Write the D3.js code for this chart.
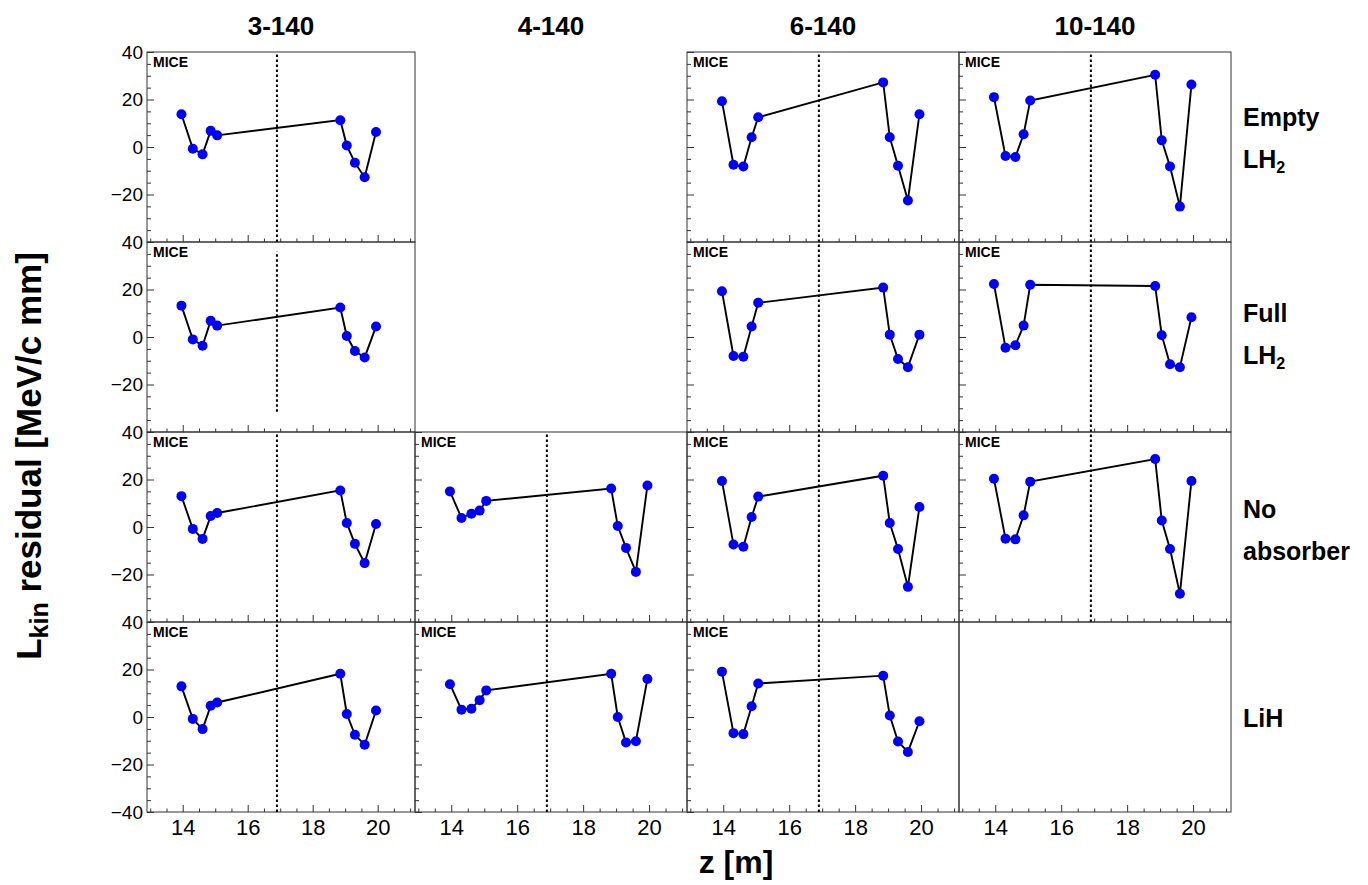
<!DOCTYPE html>
<html>
<head>
<meta charset="utf-8">
<script src="https://cdn.jsdelivr.net/npm/d3@7"></script>
<style>
  body { margin: 0; background: #fff; }
  svg { display: block; font-family: "Liberation Sans", Arial, Helvetica, sans-serif; }
</style>
</head>
<body>
<svg id="chart" width="1368" height="885"></svg>
<script>
// Beam settings (columns) and absorber configurations (rows)
const configs = ["3-140", "4-140", "6-140", "10-140"];
const absorbers = [["Empty", "LH2"], ["Full", "LH2"], ["No", "absorber"], ["LiH"]];

// Tracker station positions along the beamline [m]
const stationZ = [13.96, 14.31, 14.61, 14.86, 15.06, 18.85, 19.05, 19.30, 19.60, 19.95];
const absorberZ = 16.9;

const xTicks = [14, 16, 18, 20];
const yTicks = [-40, -20, 0, 20, 40];

// L_kin residual [MeV/c mm] per station, one entry per beam setting (null = not taken)
const emptyLH2 = [
  [13.8, -0.7, -3.1, 6.8, 4.9, 11.3, 0.6, -6.6, -12.7, 6.3],
  null,
  [19.3, -7.5, -8.2, 4.1, 12.5, 27.2, 4.1, -7.9, -22.5, 13.8],
  [21.0, -3.8, -4.2, 5.4, 19.6, 30.4, 2.8, -8.2, -25.1, 26.3]
];
const fullLH2 = [
  [13.2, -1.0, -3.7, 6.8, 4.8, 12.4, 0.4, -5.9, -8.6, 4.4],
  null,
  [19.3, -8.0, -8.3, 4.4, 14.4, 20.8, 1.0, -9.3, -12.7, 1.0],
  [22.3, -4.5, -3.5, 4.8, 22.0, 21.5, 0.7, -11.5, -12.7, 8.3]
];
const noAbsorber = [
  [13.0, -0.8, -5.0, 4.6, 5.9, 15.4, 1.7, -7.1, -15.2, 1.3],
  [15.0, 3.8, 5.6, 6.9, 11.0, 16.2, 0.4, -8.8, -18.9, 17.5],
  [19.4, -7.4, -8.3, 4.2, 12.8, 21.6, 1.7, -9.3, -25.2, 8.4],
  [20.3, -4.9, -5.2, 4.9, 19.1, 28.6, 2.7, -9.3, -28.1, 19.4]
];
const lih = [
  [12.9, -0.8, -5.1, 4.7, 6.1, 18.2, 1.3, -7.5, -11.7, 2.7],
  [13.8, 3.1, 3.5, 7.1, 11.2, 18.2, 0.0, -10.7, -10.2, 16.0],
  [19.1, -6.8, -7.2, 4.5, 14.1, 17.4, 0.6, -10.3, -14.7, -1.8],
  null
];
const residuals = [emptyLH2, fullLH2, noAbsorber, lih];

// Extent of the dashed absorber marker in each pad (null = not drawn)
const markerSpan = [
  [[-40, 40], null, [-40, 40], [-40, 40]],
  [[-31.5, 36], null, [-40, 40], [-40, 40]],
  [[-40, 40], [-40, 40], [-40, 40], [-40, 40]],
  [[-40, 40], [-40, 40], [-40, 40], null]
];

// ---- layout ----
const colEdges = [147, 415, 687, 959, 1231];
const rowEdges = [52, 242, 432, 622, 812];
const zDomain = [12.9, 21.15];
const yDomain = [-40, 40];

const svg = d3.select("#chart");
const frameColor = "#333";

const fmt = v => (v < 0 ? "\u2212" + Math.abs(v) : String(v));

for (let r = 0; r < 4; r++) {
  for (let c = 0; c < 4; c++) {
    const data = residuals[r][c];
    const isBottom = r === 3;
    const blankPad = data === null && !isBottom;
    if (blankPad) continue;

    const x0 = colEdges[c], x1 = colEdges[c + 1];
    const y0 = rowEdges[r], y1 = rowEdges[r + 1];
    const x = d3.scaleLinear().domain(zDomain).range([x0, x1]);
    const y = d3.scaleLinear().domain(yDomain).range([y1, y0]);
    const g = svg.append("g");

    // frame
    g.append("rect")
      .attr("x", x0).attr("y", y0)
      .attr("width", x1 - x0).attr("height", y1 - y0)
      .attr("fill", "none").attr("stroke", frameColor).attr("stroke-width", 1);

    // bottom axis: ticks pointing inward
    const xMinor = d3.range(13, 21.01, 0.5).filter(v => !xTicks.includes(v));
    g.append("g").attr("transform", `translate(0,${y1})`)
      .call(d3.axisBottom(x).tickValues(xMinor).tickSizeInner(-3.5).tickSizeOuter(0).tickFormat(""))
      .call(a => a.select(".domain").remove())
      .call(a => a.selectAll("line").attr("stroke", frameColor));
    const xAx = g.append("g").attr("transform", `translate(0,${y1})`)
      .call(d3.axisBottom(x).tickValues(xTicks).tickSizeInner(-7).tickSizeOuter(0).tickPadding(7)
        .tickFormat(isBottom ? d3.format("d") : ""))
      .call(a => a.select(".domain").remove())
      .call(a => a.selectAll("line").attr("stroke", frameColor));
    xAx.selectAll("text").attr("font-size", 22).attr("fill", "#000")
      .attr("font-family", '"Liberation Sans", Arial, sans-serif');

    if (data === null) continue;

    // left axis: ticks pointing inward
    const yMinor = d3.range(-35, 36, 5).filter(v => !yTicks.includes(v));
    g.append("g").attr("transform", `translate(${x0},0)`)
      .call(d3.axisLeft(y).tickValues(yMinor).tickSizeInner(-4).tickSizeOuter(0).tickFormat(""))
      .call(a => a.select(".domain").remove())
      .call(a => a.selectAll("line").attr("stroke", frameColor));
    const shown = yTicks.filter(v => v !== -40 || isBottom);
    const yAx = g.append("g").attr("transform", `translate(${x0},0)`)
      .call(d3.axisLeft(y).tickValues(shown).tickSizeInner(-7).tickSizeOuter(0).tickPadding(4)
        .tickFormat(c === 0 ? fmt : ""))
      .call(a => a.select(".domain").remove())
      .call(a => a.selectAll("line").attr("stroke", frameColor));
    yAx.selectAll("text").attr("font-size", 19).attr("fill", "#000")
      .attr("font-family", '"Liberation Sans", Arial, sans-serif');

    // absorber position marker
    const span = markerSpan[r][c];
    if (span) {
      g.append("line")
        .attr("x1", x(absorberZ)).attr("x2", x(absorberZ))
        .attr("y1", y(span[0])).attr("y2", y(span[1]))
        .attr("stroke", "#000").attr("stroke-width", 2).attr("stroke-dasharray", "2.5,2.5");
    }

    // residual curve
    const pts = stationZ.map((z, i) => [z, data[i]]);
    g.append("path")
      .attr("d", d3.line().x(d => x(d[0])).y(d => y(d[1]))(pts))
      .attr("fill", "none").attr("stroke", "#000").attr("stroke-width", 1.9);
    g.selectAll("circle").data(pts).join("circle")
      .attr("cx", d => x(d[0])).attr("cy", d => y(d[1])).attr("r", 5)
      .attr("fill", "#0000ff");

    // experiment tag
    g.append("text")
      .attr("x", x0 + 6).attr("y", y0 + 15)
      .attr("font-size", 14).attr("font-weight", "bold").attr("fill", "#000")
      .text("MICE");
  }
}

// column titles
svg.selectAll("text.col-title").data(configs).join("text")
  .attr("class", "col-title")
  .attr("x", (d, i) => (colEdges[i] + colEdges[i + 1]) / 2)
  .attr("y", 35)
  .attr("text-anchor", "middle")
  .attr("font-size", 26).attr("font-weight", "bold")
  .text(d => d);

// row labels, with subscripted 2 in LH2
const rowLabelY = [138, 334, 530, 718];
absorbers.forEach((lines, r) => {
  const t = svg.append("text")
    .attr("font-size", 25).attr("font-weight", "bold");
  const n = lines.length;
  lines.forEach((ln, k) => {
    const by = rowLabelY[r] + (k - (n - 1) / 2) * 42 + 9;
    if (ln === "LH2") {
      t.append("tspan").attr("x", 1243).attr("y", by).text("LH");
      t.append("tspan").attr("font-size", 16).attr("dy", 5).text("2");
    } else {
      t.append("tspan").attr("x", 1243).attr("y", by).text(ln);
    }
  });
});

// axis titles
svg.append("text")
  .attr("x", 736).attr("y", 873)
  .attr("text-anchor", "middle")
  .attr("font-size", 32).attr("font-weight", "bold")
  .text("z [m]");

const yt = svg.append("text")
  .attr("transform", "translate(41,456) rotate(-90)")
  .attr("text-anchor", "middle")
  .attr("font-size", 35).attr("font-weight", "bold");
yt.append("tspan").text("L");
yt.append("tspan").attr("font-size", 25).attr("dy", 7).text("kin");
yt.append("tspan").attr("dy", -7).text(" residual [MeV/c mm]");
</script>
</body>
</html>
